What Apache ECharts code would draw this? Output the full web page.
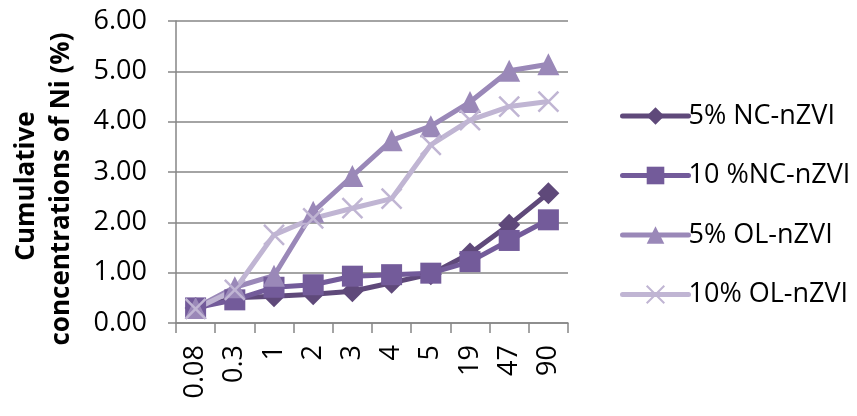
<!DOCTYPE html>
<html><head><meta charset="utf-8">
<script src="https://cdn.jsdelivr.net/npm/echarts@6/dist/echarts.min.js"></script>
<style>html,body{margin:0;padding:0;background:#fff;}#c{width:857px;height:416px;}</style>
</head><body><div id="c"></div>
<script>
const categories = ['0.08','0.3','1','2','3','4','5','19','47','90'];
const nc5 = [0.30, 0.50, 0.53, 0.57, 0.63, 0.80, 0.97, 1.38, 1.95, 2.58];
const nc10 = [0.30, 0.46, 0.71, 0.76, 0.93, 0.96, 0.99, 1.22, 1.64, 2.05];
const ol5 = [0.30, 0.71, 0.94, 2.21, 2.92, 3.63, 3.91, 4.39, 5.01, 5.14];
const ol10 = [0.28, 0.66, 1.75, 2.08, 2.28, 2.47, 3.54, 4.03, 4.30, 4.40];
const seriesNames = ['5% NC-nZVI','10 %NC-nZVI','5% OL-nZVI','10% OL-nZVI'];
const colors = ['#5F497A','#735B9A','#9A88B8','#C0B5D3'];
const yTitle = ['Cumulative','concentrations of Ni (%)'];

const font = '"Open Sans", Lato, sans-serif';
const chart = echarts.init(document.getElementById('c'), null, {renderer:'canvas'});
const mk = (name, data, color, symbol, size) => ({
  name, type:'line', data, symbol, symbolSize:size, showAllSymbol:true,
  lineStyle:{color, width:5}, itemStyle:{color, borderWidth:0},
  emphasis:{disabled:true}, animation:false
});
chart.setOption({
  animation:false,
  grid:{left:176, right:289, top:21, bottom:93},
  xAxis:{type:'category', data:categories, boundaryGap:true,
    axisLine:{lineStyle:{color:'#868686', width:1.5}},
    axisTick:{show:true, length:10, lineStyle:{color:'#868686', width:1.5}},
    axisLabel:{rotate:90, fontSize:27, color:'#000', fontFamily:font, margin:22}},
  yAxis:{type:'value', min:0, max:6, interval:1,
    axisLine:{show:true, lineStyle:{color:'#868686', width:1.5}},
    axisTick:{show:true, length:8, lineStyle:{color:'#868686', width:1.5}},
    splitLine:{lineStyle:{color:'#868686', width:1.5}},
    axisLabel:{fontSize:27, color:'#000', fontFamily:font, margin:29, formatter:v=>v.toFixed(2)}},
  legend:{orient:'vertical', left:615, top:97, itemGap:31.5, itemWidth:66, itemHeight:22,
    lineStyle:{width:5, cap:'round'},
    textStyle:{fontSize:27, lineHeight:28, color:'#000', fontFamily:font, padding:[0,0,0,-5]},
    data:seriesNames},
  graphic:[
    {type:'text', x:27, y:186, rotation:Math.PI/2, style:{text:yTitle[0], font:'bold 26px '+font, fill:'#000', align:'center', verticalAlign:'middle'}},
    {type:'text', x:62, y:189, rotation:Math.PI/2, style:{text:yTitle[1], font:'bold 26px '+font, fill:'#000', align:'center', verticalAlign:'middle'}}
  ],
  series:[
    mk(seriesNames[0], nc5, colors[0], 'diamond', 22),
    mk(seriesNames[1], nc10, colors[1], 'rect', 21),
    mk(seriesNames[2], ol5, colors[2], 'triangle', 22),
    Object.assign(mk(seriesNames[3], ol10, colors[3], 'path://M0,0 L1,1 M1,0 L0,1', 20), {
      itemStyle:{color:'none', borderColor:colors[3], borderWidth:2.5}
    })
  ]
});
</script></body></html>
